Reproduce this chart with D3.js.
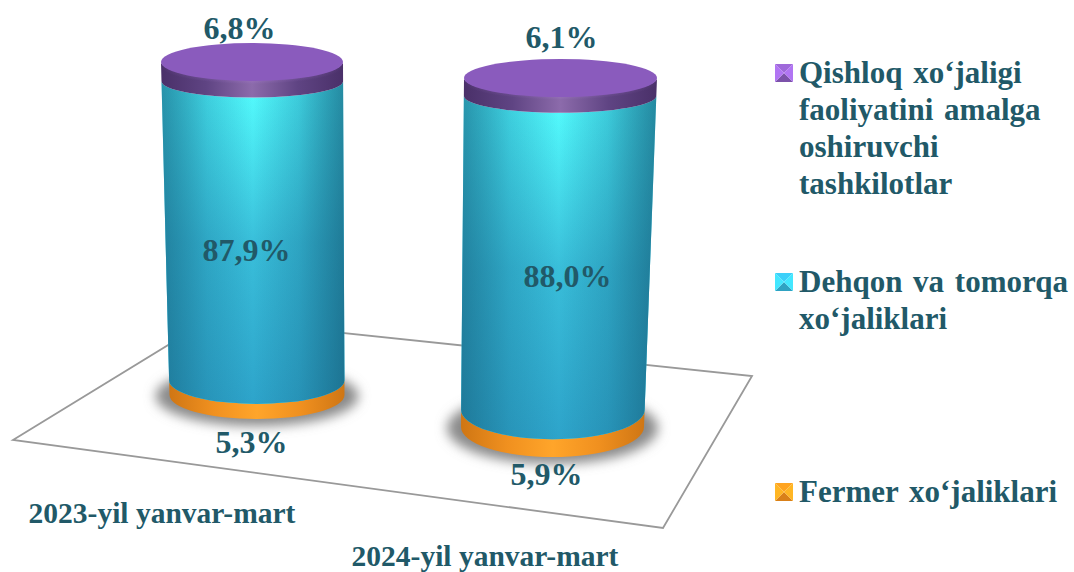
<!DOCTYPE html>
<html>
<head>
<meta charset="utf-8">
<script src="https://cdnjs.cloudflare.com/ajax/libs/d3/7.8.5/d3.min.js"></script>
<style>
  body { margin: 0; background: #fff; }
  text { font-family: "Liberation Serif", serif; font-weight: bold; fill: #215968; }
</style>
</head>
<body>
<svg width="1074" height="572"></svg>
<script>
let categories = ["2023-yil yanvar-mart", "2024-yil yanvar-mart"]
let fermer = [5.3, 5.9]
let dehqon = [87.9, 88.0]
let qishloq = [6.8, 6.1]
let seriesKeys = ["fermer", "dehqon", "qishloq"]
let legendFermer = ["Fermer xo‘jaliklari"]
let legendDehqon = ["Dehqon va tomorqa", "xo‘jaliklari"]
let legendQishloq = ["Qishloq xo‘jaligi", "faoliyatini amalga", "oshiruvchi", "tashkilotlar"]

let svg = d3.select("svg")
let defs = svg.append("defs")

// each cylinder is a bit tilted, so base and top differ
let shapes = [
  { base: { cx: 257, rx: 87.5, y: 395, ry: 24 }, top: { cx: 252, rx: 91, y: 62, ry: 16 }, capRy: 19 },
  { base: { cx: 552.5, rx: 91.5, y: 427, ry: 30 }, top: { cx: 560.5, rx: 96.5, y: 78, ry: 17 }, capRy: 19 }
]
// the chart is in perspective: the ends of the stack look shorter than the middle
let foreshorten = d3.scaleLinear().domain([0, 6, 94, 100]).range([0, 0.05, 0.95, 1])

let colors = {
  fermer: { edge: "#cf7614", low: "#f0901f", mid: "#ffa52a", flat: "#f28e1c" },
  dehqon: { edge: "#3cd0e8", low: "#48ecf8", mid: "#55ffff", flat: "#34b4d8" },
  qishloq: { edge: "#4a3069", low: "#5f4483", mid: "#8c6bab", flat: "#8a5bbd" }
}

let sideGradient = (id, c) => {
  let g = defs.append("linearGradient").attr("id", id)
  g.append("stop").attr("offset", "0%").attr("stop-color", c.edge)
  g.append("stop").attr("offset", "25%").attr("stop-color", c.low)
  g.append("stop").attr("offset", "50%").attr("stop-color", c.mid)
  g.append("stop").attr("offset", "75%").attr("stop-color", c.low)
  g.append("stop").attr("offset", "100%").attr("stop-color", c.edge)
}
seriesKeys.forEach((k) => sideGradient("side-" + k, colors[k]))

let shade = defs.append("linearGradient").attr("id", "body-shade").attr("x2", 0).attr("y2", 1)
shade.append("stop").attr("offset", "0%").attr("stop-color", "#2a9cc6").attr("stop-opacity", 0)
shade.append("stop").attr("offset", "50%").attr("stop-color", "#2a9cc6").attr("stop-opacity", 0.65)
shade.append("stop").attr("offset", "100%").attr("stop-color", "#2a9cc6").attr("stop-opacity", 0.92)

let edgeShade = defs.append("linearGradient").attr("id", "edge-shade")
let edgeStops = [[0, 0.45], [25, 0.16], [50, 0], [75, 0.18], [100, 0.52]]
edgeStops.forEach((s) => {
  edgeShade.append("stop").attr("offset", s[0] + "%").attr("stop-color", "#0f4a60").attr("stop-opacity", s[1])
})

let rimShade = defs.append("radialGradient").attr("id", "rim-shade")
  .attr("cx", "50%").attr("cy", "12%").attr("r", "50%")
rimShade.append("stop").attr("offset", "0%").attr("stop-color", "#c890f8").attr("stop-opacity", 0.8)
rimShade.append("stop").attr("offset", "100%").attr("stop-color", "#c890f8").attr("stop-opacity", 0)

defs.append("filter").attr("id", "blur")
  .attr("x", "-30%").attr("y", "-60%").attr("width", "160%").attr("height", "220%")
  .append("feGaussianBlur").attr("stdDeviation", 6)

// floor
let floor = [[13, 440], [210.7, 319], [752, 376], [663, 528]]
svg.append("polygon")
   .attr("points", floor.map((p) => p.join(",")).join(" "))
   .attr("fill", "#fff")
   .attr("stroke", "#999")
   .attr("stroke-width", 1.8)

let rows = categories.map((c, i) => ({ fermer: fermer[i], dehqon: dehqon[i], qishloq: qishloq[i] }))
let stacked = d3.stack().keys(seriesKeys)(rows)

let ringAt = (shape, value) => {
  let f = foreshorten(value)
  let along = (a, b) => d3.interpolateNumber(a, b)(f)
  return {
    cx: along(shape.base.cx, shape.top.cx),
    rx: along(shape.base.rx, shape.top.rx),
    y: along(shape.base.y, shape.top.y),
    ry: d3.interpolateNumber(shape.base.ry, shape.top.ry)(Math.min(f / 0.95, 1))
  }
}

let sidePath = (a, b) => {
  return "M" + (a.cx - a.rx) + "," + a.y
    + "A" + a.rx + "," + a.ry + " 0 0 0 " + (a.cx + a.rx) + "," + a.y
    + "L" + (b.cx + b.rx) + "," + b.y
    + "A" + b.rx + "," + b.ry + " 0 0 1 " + (b.cx - b.rx) + "," + b.y + "Z"
}

shapes.forEach((shape, i) => {
  let g = svg.append("g")

  g.append("ellipse")
   .attr("cx", shape.base.cx)
   .attr("cy", shape.base.y + 1)
   .attr("rx", shape.base.rx + 14)
   .attr("ry", shape.base.ry + 6)
   .attr("fill", "#8a8a8a")
   .attr("filter", "url(#blur)")

  seriesKeys.forEach((key, s) => {
    let a = ringAt(shape, stacked[s][i][0])
    let b = ringAt(shape, stacked[s][i][1])
    let d = sidePath(a, b)
    g.append("path").attr("d", d).attr("fill", "url(#side-" + key + ")")
    if (key == "dehqon") {
      g.append("path").attr("d", d).attr("fill", "url(#body-shade)")
      g.append("path").attr("d", d).attr("fill", "url(#edge-shade)")
    }
    if (key == "qishloq") {
      g.append("path").attr("d", d).attr("fill", "url(#rim-shade)")
      let last = ringAt(shape, 100)
      g.append("ellipse")
       .attr("cx", last.cx)
       .attr("cy", last.y)
       .attr("rx", last.rx)
       .attr("ry", shape.capRy)
       .attr("fill", colors.qishloq.flat)
    }
  })
})

// value labels, placed by hand next to their segment like in the original
let valueLabel = (text, x, y) => {
  svg.append("text")
     .attr("x", x)
     .attr("y", y)
     .attr("text-anchor", "middle")
     .style("font-size", "32px")
     .text(text)
}
let fmt = (v) => v.toFixed(1).replace(".", ",") + "%"
let labelSpots = {
  fermer: [[251.5, 453], [546.5, 485]],
  dehqon: [[246.5, 261], [567.5, 287]],
  qishloq: [[239.5, 39], [561.5, 48]]
}
seriesKeys.forEach((key) => {
  let values = { fermer, dehqon, qishloq }[key]
  values.forEach((v, i) => valueLabel(fmt(v), labelSpots[key][i][0], labelSpots[key][i][1]))
})

// category labels
let categoryX = d3.scalePoint().domain(categories).range([162, 485])
let categoryY = d3.scalePoint().domain(categories).range([523, 566])
categories.forEach((c) => {
  svg.append("text")
     .attr("x", categoryX(c))
     .attr("y", categoryY(c))
     .attr("text-anchor", "middle")
     .style("font-size", "29.5px")
     .text(c)
})

// legend
let legendItems = [
  { key: "qishloq", lines: legendQishloq, y: 83 },
  { key: "dehqon", lines: legendDehqon, y: 292 },
  { key: "fermer", lines: legendFermer, y: 502 }
]
legendItems.forEach((item) => {
  let text = svg.append("text").style("font-size", "31px").style("word-spacing", "3px")
  item.lines.forEach((line, n) => {
    text.append("tspan").attr("x", 799).attr("y", item.y + n * 37).text(line)
  })
  let s = 18, x0 = 775, y0 = item.y - 19
  let c = colors[item.key]
  let mid = [x0 + s / 2, y0 + s / 2]
  let tris = [
    [[x0, y0], [x0 + s, y0], mid, d3.color(c.flat).brighter(0.4)],
    [[x0, y0 + s], [x0 + s, y0 + s], mid, d3.color(c.flat).darker(0.3)],
    [[x0, y0], [x0, y0 + s], mid, d3.color(c.flat).brighter(0.7)],
    [[x0 + s, y0], [x0 + s, y0 + s], mid, d3.color(c.flat).brighter(0.7)]
  ]
  tris.forEach((t) => {
    svg.append("polygon")
       .attr("points", t.slice(0, 3).map((p) => p.join(",")).join(" "))
       .attr("fill", t[3])
  })
})
</script>
</body>
</html>
